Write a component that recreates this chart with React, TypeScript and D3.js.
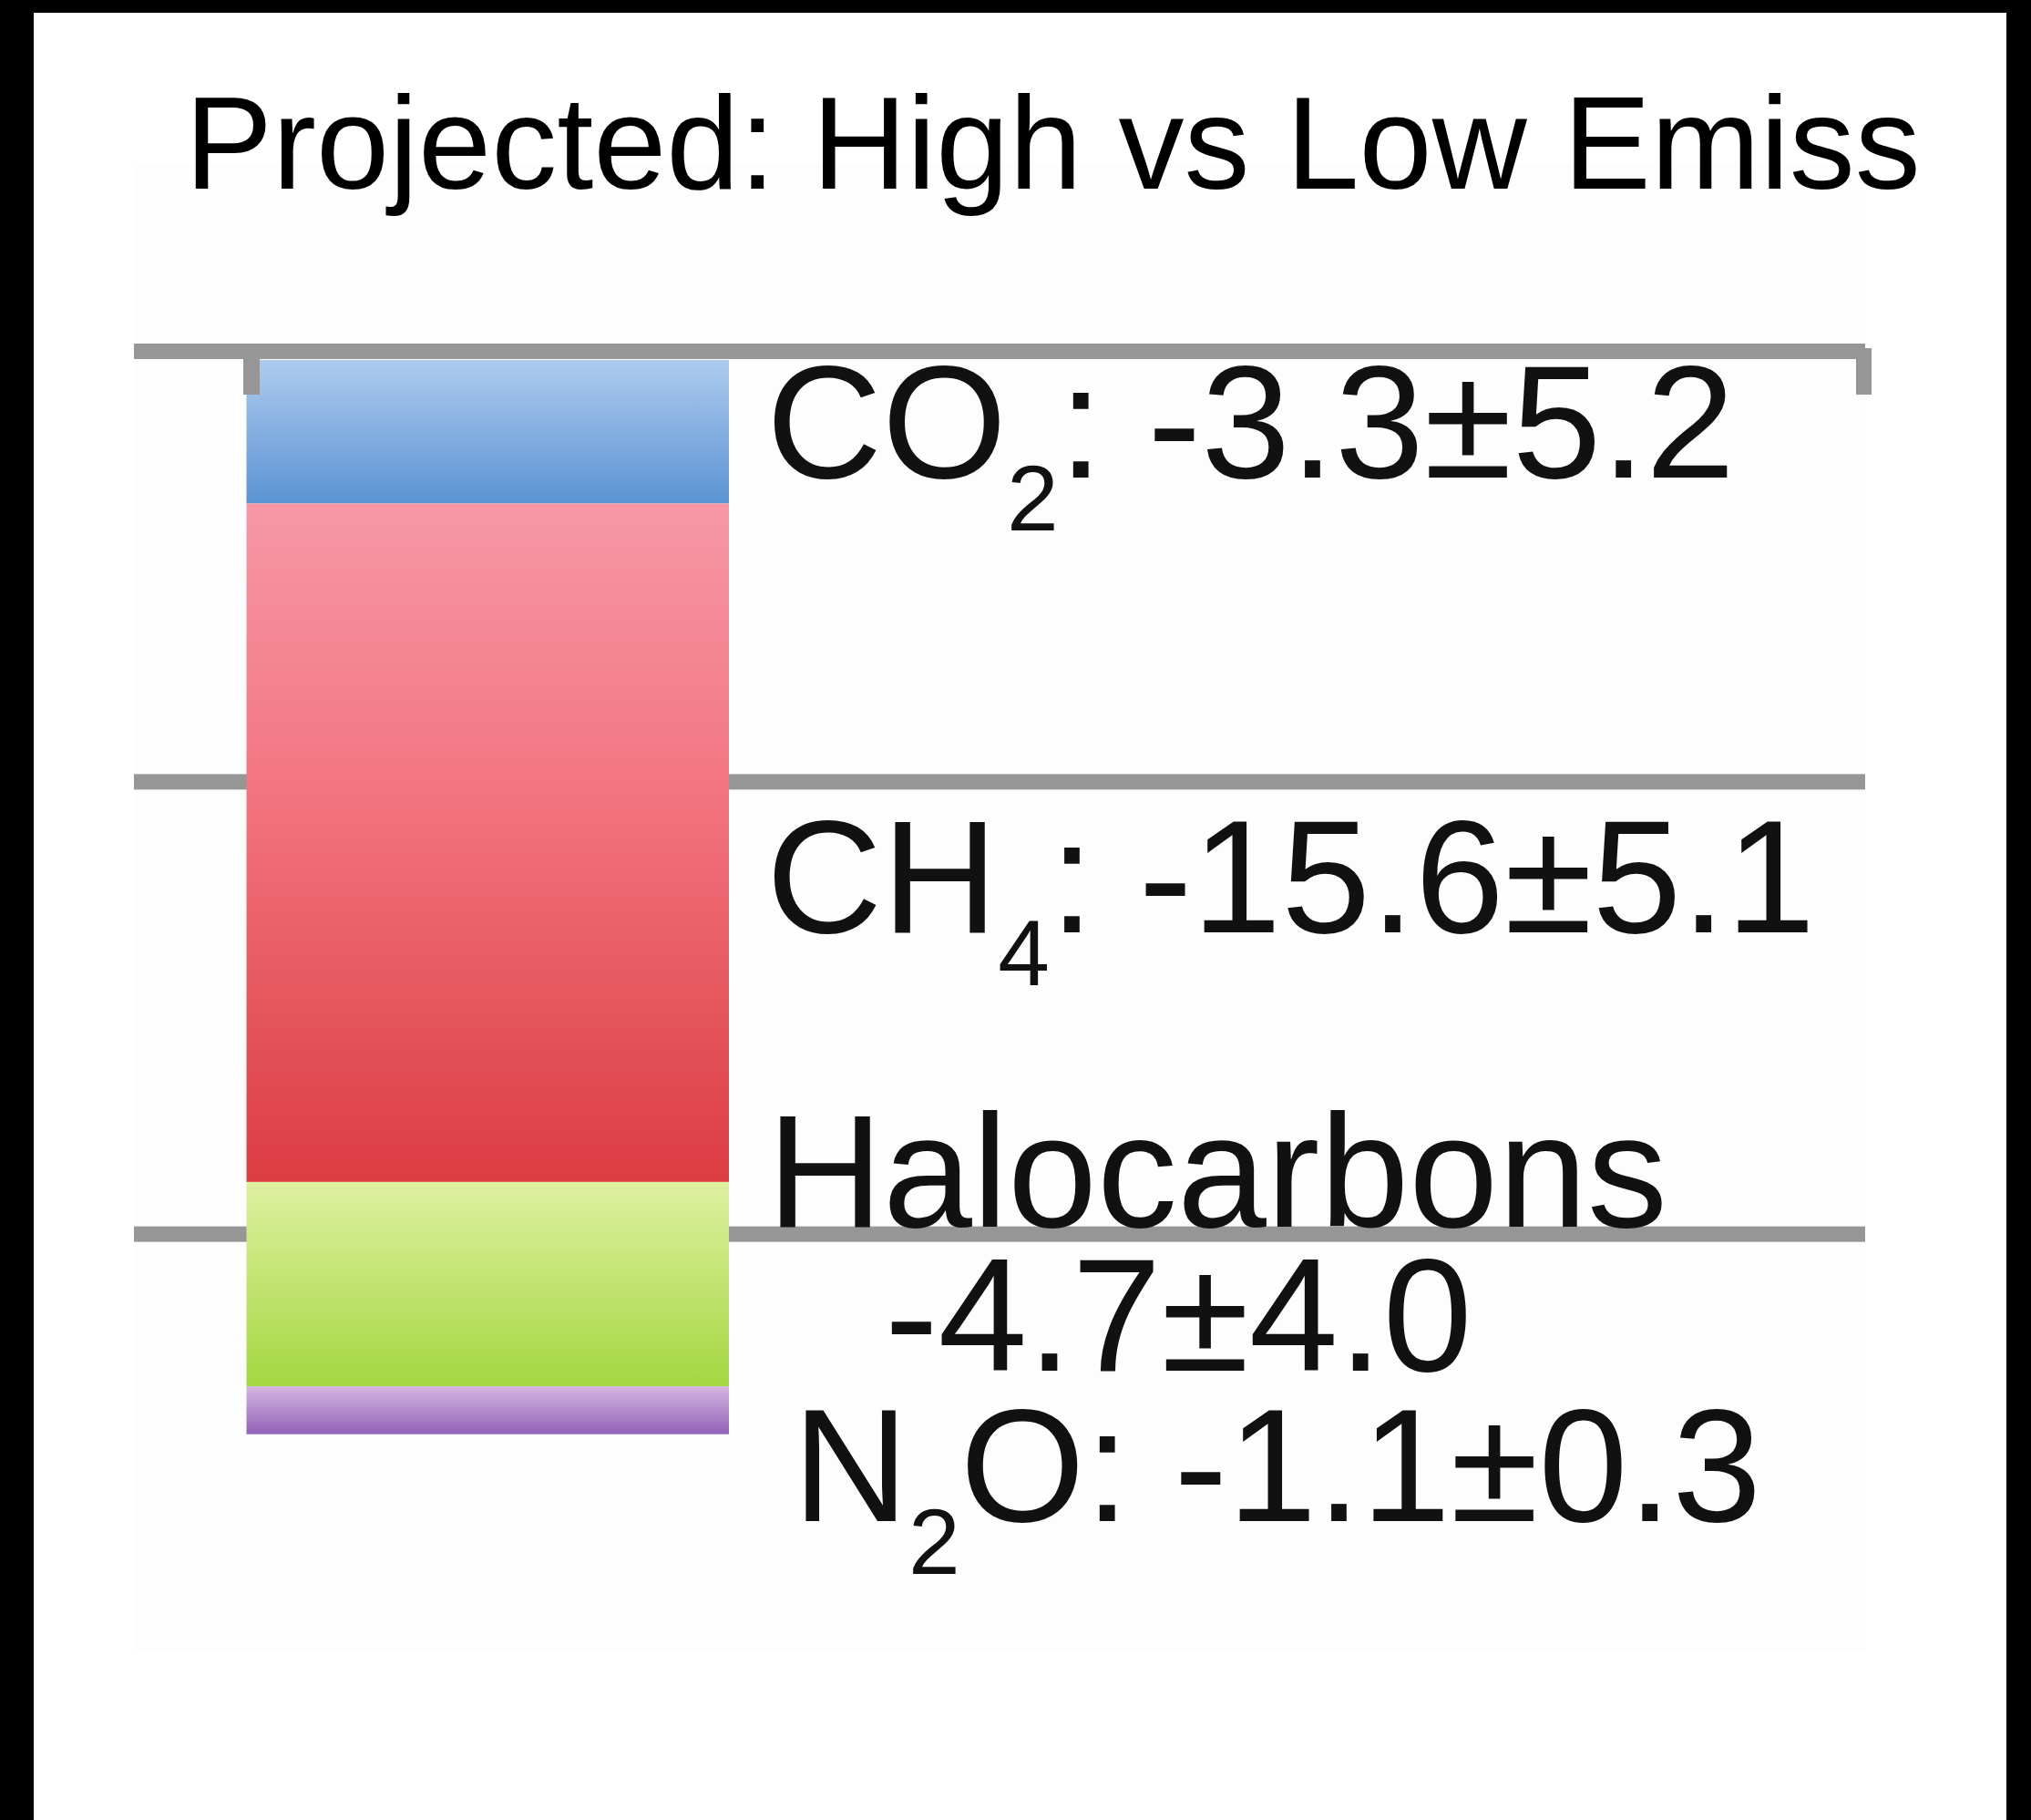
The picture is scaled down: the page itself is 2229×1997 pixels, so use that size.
import React from "react";
import * as d3 from "d3";

// stacked difference bar, one segment per gas
const gases = ["CO2", "CH4", "Halocarbons", "N2O"];
const forcing = [-3.3, -15.6, -4.7, -1.1];
const uncertainty = [5.2, 5.1, 4.0, 0.3];
const gridValues = [0.2, -9.7, -20.1];
const barCategory = ["High vs Low"];
const title = "Projected: High vs Low Emiss";

const gradStops: [number, string][][] = [
  [[0, "#aecbee"], [1, "#5b93d3"]],
  [[0, "#f698a5"], [0.4, "#f37783"], [1, "#dc3c42"]],
  [[0, "#dff0a0"], [1, "#a3d741"]],
  [[0, "#d5b6e1"], [1, "#9262b7"]],
];

const W = 2229;
const H = 1997;
const FONT = "'Liberation Sans', Arial, Helvetica, sans-serif";
const LABEL_SIZE = 176;
const SUB_SIZE = 102;
const SUB_DY = 58;

// "CO2" -> parts with digits marked as subscripts
const formula = (name: string, rest: string) => {
  const parts = name
    .split(/(\d+)/)
    .filter((s) => s.length)
    .map((s) => ({ text: s, sub: /^\d+$/.test(s) }));
  parts.push({ text: rest, sub: false });
  let prevSub = false;
  return parts.map((p, i) => {
    const dy = p.sub && !prevSub ? SUB_DY : !p.sub && prevSub ? -SUB_DY : 0;
    prevSub = p.sub;
    return (
      <tspan key={i} dy={dy || undefined} fontSize={p.sub ? SUB_SIZE : undefined}>
        {p.text}
      </tspan>
    );
  });
};

const valueText = (i: number) =>
  `${forcing[i].toFixed(1)}±${uncertainty[i].toFixed(1)}`;

const App = () => {
  const y = d3.scaleLinear().domain([0, -25]).range([395, 1588]);
  const x = d3.scaleBand().domain(barCategory).range([270.5, 800]).padding(0);

  const row: any = { cat: barCategory[0] };
  gases.forEach((g, i) => (row[g] = forcing[i]));
  const series = d3
    .stack()
    .keys(gases)
    .offset(d3.stackOffsetDiverging)([row]);

  const plotLeft = 147;
  const plotRight = 2047;
  const lineW = 17;
  const x0 = x(barCategory[0]) as number;
  const bw = x.bandwidth();

  // label layout: [x, baseline]
  const labelPos: [number, number][] = [
    [841, 524],
    [841, 1023],
    [842, 1346],
    [870, 1669],
  ];

  return (
    <svg
      width={W}
      height={H}
      style={{ position: "absolute", left: 0, top: 0, background: "#fff" }}
      fontFamily={FONT}
    >
      <defs>
        {gradStops.map((stops, i) => (
          <linearGradient key={i} id={`g${i}`} x1="0" y1="0" x2="0" y2="1">
            {stops.map(([o, c], j) => (
              <stop key={j} offset={o} stopColor={c} />
            ))}
          </linearGradient>
        ))}
      </defs>
      <rect x={0} y={0} width={W} height={H} fill="#fff" />
      <rect x={plotLeft} y={180} width={plotRight - plotLeft} height={1632} fill="#fdfdfd" />

      <text x={203} y={207} fontSize={144} fill="#000">
        {title}
      </text>

      {gridValues.map((v) => (
        <rect
          key={v}
          x={plotLeft}
          y={y(v) - lineW / 2}
          width={plotRight - plotLeft}
          height={lineW}
          fill="#959695"
        />
      ))}

      {series.map((s, i) => {
        const d = s[0];
        const top = y(Math.max(d[0], d[1]));
        const bot = y(Math.min(d[0], d[1]));
        return (
          <rect key={gases[i]} x={x0} y={top} width={bw} height={bot - top} fill={`url(#g${i})`} />
        );
      })}

      {/* bracket ends */}
      <rect x={267} y={y(0) - 12} width={18} height={50} fill="#959695" />
      <rect x={2037} y={y(0) - 13} width={17} height={51} fill="#959695" />

      <g fill="#111" fontSize={LABEL_SIZE}>
        {gases.map((g, i) => {
          const [lx, ly] = labelPos[i];
          if (g === "Halocarbons") {
            return (
              <g key={g}>
                <text x={lx} y={ly}>{g}</text>
                <text x={971} y={1504}>{valueText(i)}</text>
              </g>
            );
          }
          return (
            <text key={g} x={lx} y={ly}>
              {formula(g, `: ${valueText(i)}`)}
            </text>
          );
        })}
      </g>

      <rect x={0} y={0} width={37} height={H} fill="#000" />
      <rect x={0} y={0} width={W} height={14} fill="#000" />
      <rect x={2202} y={0} width={27} height={H} fill="#000" />
    </svg>
  );
};

export default App;
